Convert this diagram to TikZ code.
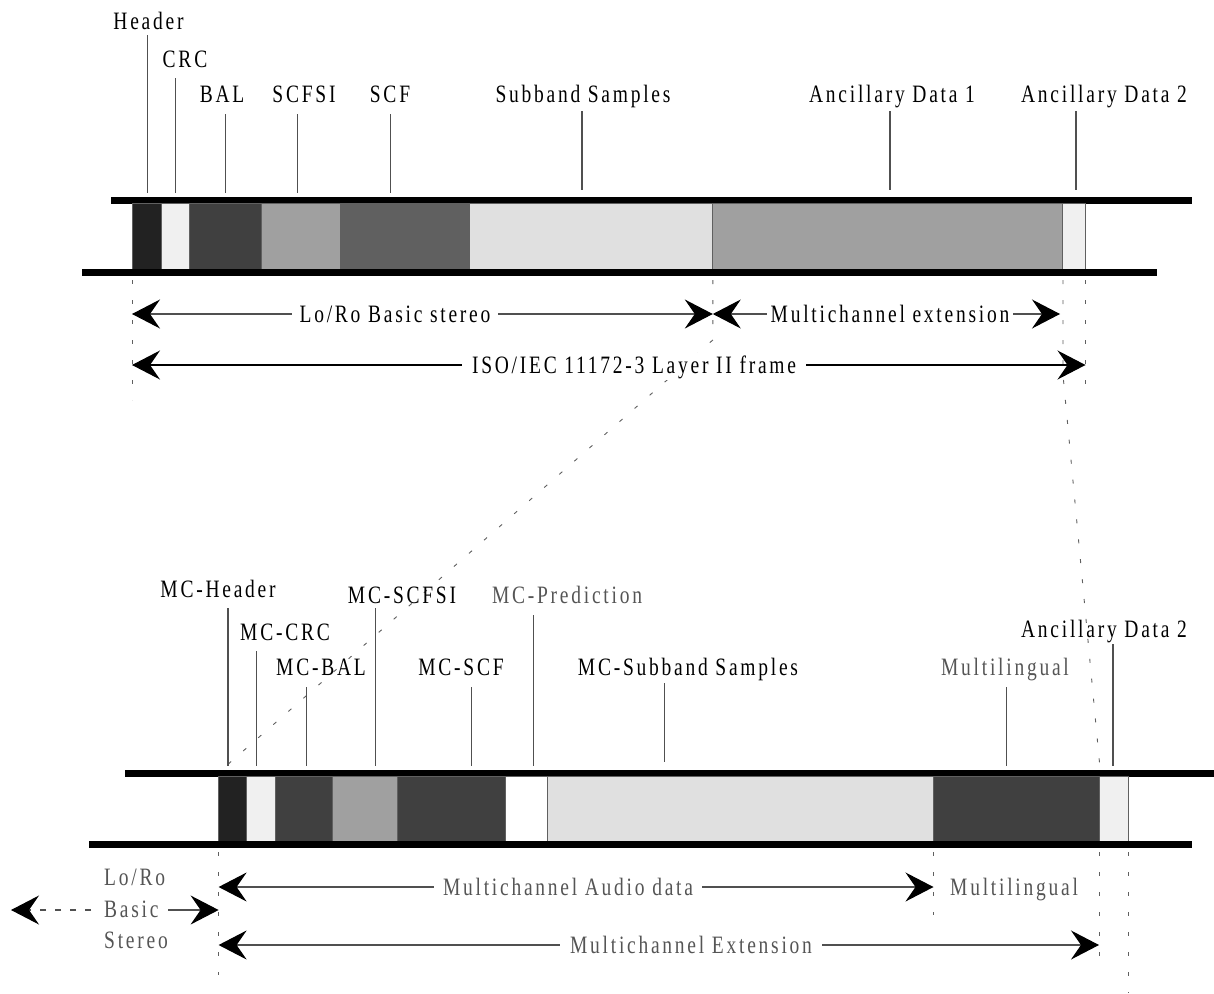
\documentclass[tikz,border=0pt]{standalone}
\usepackage{fontspec}
\usetikzlibrary{arrows.meta}
\newfontfamily\lbl[FakeStretch=0.78,LetterSpace=11]{Liberation Serif}
\definecolor{cA}{HTML}{222222}
\definecolor{cB}{HTML}{F0F0F0}
\definecolor{cC}{HTML}{404040}
\definecolor{cD}{HTML}{A0A0A0}
\definecolor{cE}{HTML}{606060}
\definecolor{cF}{HTML}{E0E0E0}
\definecolor{txtgray}{HTML}{555555}
\definecolor{leadc}{HTML}{505050}
\definecolor{dashc}{HTML}{606060}
\begin{document}
\begin{tikzpicture}[x=1pt,y=-1pt,
  >={Stealth[length=28pt,width=29pt,inset=10pt,color=black]},
  bar/.style={fill=black},
  seg/.style={draw=cE,line width=0.7pt},
  lab/.style={font=\lbl\fontsize{25}{29}\selectfont,inner sep=0pt,anchor=base},
  glab/.style={lab,text=txtgray},
  gaplab/.style={lab,fill=white,inner xsep=8pt,inner ysep=2pt},
  leader/.style={draw=leadc,line width=1.1pt},
  vdash/.style={draw=dashc,line width=0.9pt,dash pattern=on 4pt off 16pt},
  arr/.style={draw=leadc,line width=1.1pt}]
\useasboundingbox (0,0) rectangle (1214,993);
\fill[white] (0,0) rectangle (1214,993);

% ---------- top frame ----------
\fill[bar] (111,196.5) rectangle (1192,203.5);
\path[seg,fill=cA] (132,203.5) rectangle (161,269);
\path[seg,fill=cB] (161,203.5) rectangle (189.7,269);
\path[seg,fill=cC] (189.7,203.5) rectangle (261.7,269);
\path[seg,fill=cD] (261.7,203.5) rectangle (340,269);
\path[seg,fill=cE] (340,203.5) rectangle (469,269);
\path[seg,fill=cF] (469,203.5) rectangle (712.8,269);
\path[seg,fill=cD] (712.8,203.5) rectangle (1062.5,269);
\path[seg,fill=cB] (1062.5,203.5) rectangle (1085.5,269);
\fill[bar] (82,269) rectangle (1157,276);

% labels top
\node[lab] (hdr) at (148.5,29.5) {Header};
\node[lab] (crc) at (185,67) {CRC};
\node[lab] (bal) at (222,102) {BAL};
\node[lab] (scfsi) at (304,102) {SCFSI};
\node[lab] (scf) at (390,102) {SCF};
\node[lab] (sub) at (583,102) {Subband Samples};
\node[lab] (ad1) at (892,102) {Ancillary Data 1};
\node[lab] (ad2) at (1104,102) {Ancillary Data 2};

\draw[leader] (147.3,35) -- (147.3,193);
\draw[leader] (175.7,78) -- (175.7,193);
\draw[leader] (225.7,114) -- (225.7,193);
\draw[leader] (297.3,114) -- (297.3,193);
\draw[leader] (390.3,114) -- (390.3,193);
\draw[leader] (582,111) -- (582,190);
\draw[leader] (890,111) -- (890,190);
\draw[leader] (1076,111) -- (1076,190);

% dashed guides top
\coordinate (ta) at (132,280);
\coordinate (tb) at (712.8,280);
\coordinate (tc) at (1063,280);
\coordinate (td) at (1085.5,280);
\draw[vdash] (ta) -- (132,400);
\draw[vdash] (tb) -- (712.8,340) -- (226,766);
\draw[vdash] (tc) -- (1063,375) -- (1100,768);
\draw[vdash] (td) -- (1085.5,398);

% arrows top
\coordinate (r1a) at (132,314);
\coordinate (r1b) at (712.8,314);
\coordinate (r1c) at (1060,314);
\coordinate (r2a) at (132,365);
\coordinate (r2b) at (1085.5,365);
\draw[arr,<->] (r1a) -- (r1b);
\draw[arr,<->] (r1b) -- (r1c);
\draw[arr,<->,draw=black] (r2a) -- (r2b);
\node[gaplab] (lors) at (395,322) {Lo/Ro Basic stereo};
\node[gaplab,inner xsep=4pt] (mce) at (890,322) {Multichannel extension};
\node[gaplab,inner xsep=10pt] (iso) at (634,373) {ISO/IEC 11172-3 Layer II frame};

% ---------- lower frame ----------
\fill[bar] (125,770) rectangle (1214,776.7);
\path[seg,fill=cA] (218.6,776.7) rectangle (246,841);
\path[seg,fill=cB] (246,776.7) rectangle (275,841);
\path[seg,fill=cC] (275,776.7) rectangle (332.5,841);
\path[seg,fill=cD] (332.5,776.7) rectangle (397,841);
\path[seg,fill=cC] (397,776.7) rectangle (505,841);
\path[seg,fill=white] (505,776.7) rectangle (547.5,841);
\path[seg,fill=cF] (547.5,776.7) rectangle (933.5,841);
\path[seg,fill=cC] (933.5,776.7) rectangle (1099.5,841);
\path[seg,fill=cB] (1099.5,776.7) rectangle (1128.5,841);
\fill[bar] (88.6,841) rectangle (1192,847.5);

% labels lower
\node[lab] (mhdr) at (218,597) {MC-Header};
\node[lab] (mcrc) at (285,640) {MC-CRC};
\node[lab] (mbal) at (321,675) {MC-BAL};
\node[lab] (mscfsi) at (402,603) {MC-SCFSI};
\node[lab] (mscf) at (461,675) {MC-SCF};
\node[glab] (mpred) at (567,603) {MC-Prediction};
\node[lab] (msub) at (688,675) {MC-Subband Samples};
\node[glab] (mling) at (1005,675) {Multilingual};
\node[lab] (mad2) at (1104,637) {Ancillary Data 2};

\draw[leader] (228,608) -- (228,766);
\draw[leader] (256.4,651) -- (256.4,766);
\draw[leader] (306.4,687) -- (306.4,766);
\draw[leader] (375.7,608) -- (375.7,766);
\draw[leader] (471.4,687) -- (471.4,766);
\draw[leader] (533.6,615) -- (533.6,766);
\draw[leader] (664.4,683) -- (664.4,762);
\draw[leader] (1006.4,687) -- (1006.4,766);
\draw[leader] (1113,644) -- (1113,766);

% dashed guides lower
\coordinate (ba) at (218.6,852);
\coordinate (bb) at (933.5,852);
\coordinate (bc) at (1099,852);
\coordinate (bd) at (1128.5,852);
\draw[vdash] (ba) -- (218.6,975);
\draw[vdash] (bb) -- (933.5,915);
\draw[vdash] (bc) -- (1099,962);
\draw[vdash] (bd) -- (1128.5,993);

% arrows lower
\coordinate (s1a) at (218.6,887);
\coordinate (s1b) at (933.5,887);
\coordinate (s2a) at (218.6,945);
\coordinate (s2b) at (1099,945);
\draw[arr,<->] (s1a) -- (s1b);
\draw[arr,<->] (s2a) -- (s2b);
\node[gaplab,text=txtgray,inner xsep=9pt] (mad) at (568,895) {Multichannel Audio data};
\node[gaplab,text=txtgray,inner xsep=10pt] (mext) at (691,953) {Multichannel Extension};
\node[glab,anchor=base west] (mling2) at (950,895) {Multilingual};

\node[glab,anchor=base west] (lo1) at (104,885) {Lo/Ro};
\node[glab,anchor=base west] (lo2) at (104,917) {Basic};
\node[glab,anchor=base west] (lo3) at (104,948) {Stereo};
\coordinate (lq) at (11,910);
\coordinate (lr) at (91,910);
\draw[arr,->] (168,910) -- (ba |- lq);
\draw[arr,->,dash pattern=on 6pt off 9pt] (lr) -- (lq);
\end{tikzpicture}
\end{document}
